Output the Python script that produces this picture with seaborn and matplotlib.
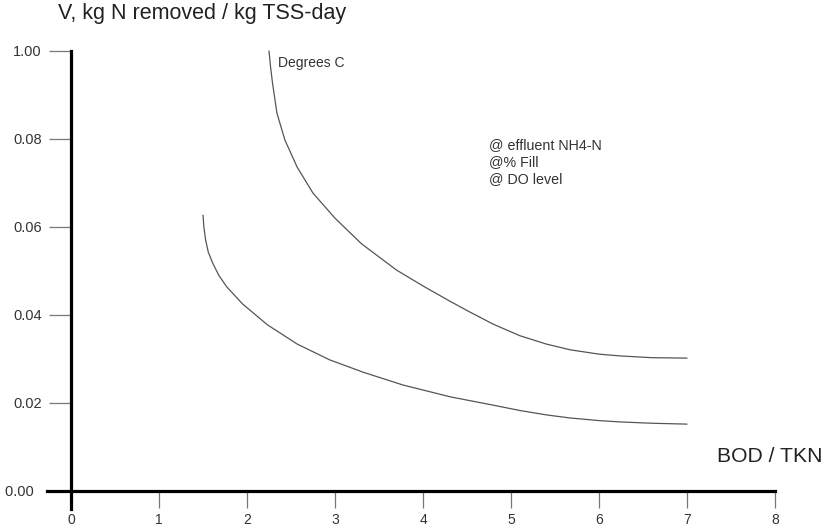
#Nitrification rate vs BOD/TKN sketch
import pandas as pd
import matplotlib
matplotlib.use('Agg')
import matplotlib.pyplot as plt
import seaborn as sns

#curve values
upper_x = [2.25, 2.27, 2.29, 2.34, 2.43, 2.57, 2.75, 3.00, 3.30, 3.70, 4.00, 4.30, 4.53, 4.80,
           5.10, 5.40, 5.67, 6.00, 6.24, 6.60, 7.00]
upper_y = [0.100, 0.096, 0.0927, 0.0859, 0.0798, 0.0736, 0.0677, 0.0620, 0.0562, 0.0502, 0.0466,
           0.0432, 0.0407, 0.0379, 0.0353, 0.0334, 0.0321, 0.0311, 0.0307, 0.0303, 0.0302]
lower_x = [1.50, 1.51, 1.53, 1.56, 1.61, 1.68, 1.77, 1.95, 2.23, 2.57, 2.94, 3.32, 3.77, 4.31,
           4.80, 5.10, 5.40, 5.67, 6.00, 6.24, 6.60, 7.00]
lower_y = [0.0627, 0.0600, 0.0570, 0.0543, 0.0518, 0.0490, 0.0464, 0.0425, 0.0378, 0.0334, 0.0298,
           0.0270, 0.0241, 0.0214, 0.0195, 0.0183, 0.0173, 0.0166, 0.0160, 0.0157, 0.0154, 0.0152]

x_ticks = [0, 1, 2, 3, 4, 5, 6, 7, 8]
y_ticks = [0.0, 0.02, 0.04, 0.06, 0.08, 0.10]
y_tick_labels = ['0.00  ', '0.02', '0.04', '0.06', '0.08', '1.00']  # top label as printed
notes = ['@ effluent NH4-N', '@% Fill', '@ DO level']

df = pd.concat([
    pd.DataFrame({'x': upper_x, 'y': upper_y, 'curve': 'upper'}),
    pd.DataFrame({'x': lower_x, 'y': lower_y, 'curve': 'lower'}),
])

sns.set_theme(style='white')
plt.rcParams['font.family'] = ['Liberation Sans', 'DejaVu Sans']

fig = plt.figure(figsize=(8.24, 5.31), dpi=100)
ax = fig.add_axes([0, 0, 1, 1])
ax.set_facecolor('white')

sns.lineplot(data=df, x='x', y='y', hue='curve', palette={'upper': '#555555', 'lower': '#555555'},
             sort=False, estimator=None, legend=False, linewidth=0.9, ax=ax)

#pixel frame: x=0 at px 71, 88 px per unit; y=0 at px 491, 4400 px per unit
ax.set_xlim(-71 / 88, (824 - 71) / 88)
ax.set_ylim((491 - 531) / 4400, 491 / 4400)

for s in ['top', 'right']:
    ax.spines[s].set_visible(False)
ax.spines['left'].set_position(('data', 0))
ax.spines['bottom'].set_position(('data', 0))
ax.spines['left'].set_bounds(-18 / 4400, 0.1)
ax.spines['bottom'].set_bounds(-24 / 88, 8)
for s in ['left', 'bottom']:
    ax.spines[s].set_linewidth(2.3)
    ax.spines[s].set_color('black')
    ax.spines[s].set_zorder(3)

ax.set_xticks(x_ticks)
ax.set_xticklabels([str(t) for t in x_ticks])
ax.set_yticks(y_ticks)
ax.set_yticklabels(y_tick_labels)
ax.tick_params(axis='x', direction='out', length=12, width=0.9, color='#777777',
               pad=4, labelsize=10, labelcolor='#333333', bottom=True)
ax.tick_params(axis='y', direction='out', length=16, width=0.9, color='#777777',
               pad=5, labelsize=10.5, labelcolor='#333333', left=True)
ax.set_xlabel('')
ax.set_ylabel('')
ax.grid(False)

ax.text(58 / 824, 1 - 14 / 531, 'V, kg N removed / kg TSS-day', transform=ax.transAxes,
        fontsize=15.5, color='#222222', ha='left', va='center')
ax.text(717 / 824, 1 - 456 / 531, 'BOD / TKN', transform=ax.transAxes,
        fontsize=15.2, color='#222222', ha='left', va='center')
ax.text(278 / 824, 1 - 63 / 531, 'Degrees C', transform=ax.transAxes,
        fontsize=10, color='#333333', ha='left', va='center')
for i, n in enumerate(notes):
    ax.text(489 / 824, 1 - (145 + 17 * i) / 531, n, transform=ax.transAxes,
            fontsize=10.3, color='#333333', ha='left', va='center')

fig.savefig('out.png', dpi=100)
